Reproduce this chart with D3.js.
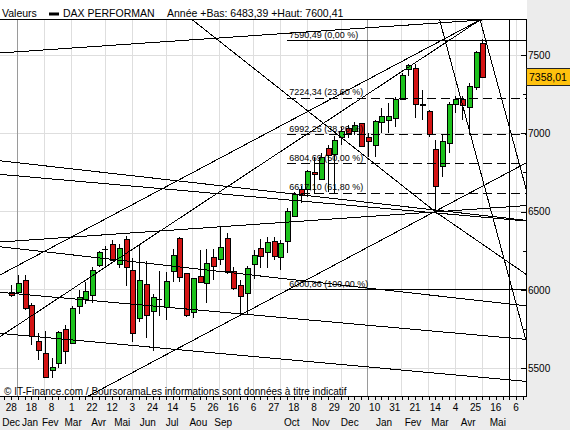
<!DOCTYPE html>
<html>
<head>
<meta charset="utf-8">
<script src="https://cdn.jsdelivr.net/npm/d3@7"></script>
<style>
  body { margin: 0; background: #fff; }
  svg { display: block; font-family: "Liberation Sans", Arial, sans-serif; }
</style>
</head>
<body>
<script>
// weekly candles, week 0 = Monday 28 Dec 2009
const startDate = new Date(Date.UTC(2009, 11, 28));
const opens  = [5984,5982,6059,5901,5674,5595,5484,5531,5748,5659,5893,5940,5965,6157,6257,6291,6165,6323,6123,5818,
                6036,5861,5942,5887,6121,6329,6106,5857,6084,6042,6208,6195,6329,6121,6027,5978,6163,6265,6238,6308,
                6208,6308,6468,6642,6642,6751,6707,6904,6868,6974,7032,7010,7064,6974,6921,7070,7085,7096,7217,7409,
                7415,7182,7138,6898,6787,6936,7181,7217,7166,7291,7575];
const highs  = [6031,6095,6095,5914,5727,5740,5563,5740,5776,5899,5999,6053,6148,6251,6280,6319,6293,6346,6202,6287,
                6187,5974,6121,6112,6259,6336,6106,6078,6255,6259,6259,6400,6361,6148,6063,6152,6255,6323,6340,6340,
                6319,6521,6627,6663,6766,6850,6872,6925,6983,7042,7053,7074,7068,7000,7085,7159,7191,7230,7383,7443,
                7442,7276,7149,6957,6990,7202,7240,7238,7319,7525,7600.41];
const lows   = [5952,5978,5872,5648,5552,5441,5441,5503,5525,5654,5844,5910,5918,6148,6148,6187,6138,6027,5665,5797,
                5691,5612,5835,5808,6053,6053,5829,5818,6046,5914,6063,6159,6105,5999,5846,5846,6067,6138,6138,6191,
                6127,6233,6463,6557,6595,6610,6702,6627,6617,6925,6968,6989,6915,6851,6851,7000,7004,7042,7217,7366,
                7096,7085,6974,6490,6723,6872,7130,7085,6989,7277,7352];
const closes = [5965,6042,5882,5706,5612,5442,5505,5729,5606,5882,5953,5989,6123,6240,6257,6191,6265,6144,5723,6059,
                5835,5953,5942,6053,6219,6078,5835,6074,6046,6170,6148,6268,6116,6010,5961,6138,6219,6216,6302,6212,
                6297,6500,6612,6606,6755,6738,6848,6857,6953,7010,7000,7047,6919,6949,7074,7110,7106,7217,7372,7430,
                7185,7178,6990,6663,6951,7185,7217,7178,7298,7517,7358.01];

const lastPrice = 7358.01;
const yearLow = 6483.39;
const yearHigh = 7600.41;

// Fibonacci retracement
const fibValues = [7590.49, 7224.34, 6992.25, 6804.69, 6617.10, 6000.86];
const fibPcts   = [0, 23.6, 38.2, 50, 61.8, 100];
const fibDashed = [false, true, true, true, true, false];
const fibStartWeek = 41;

// trend lines drawn on the chart: [week1, value1, week2, value2]
const trendLines = [
  [-1.66, 7513, 71.1, 7727],
  [26.9, 7725, 63, 6500],
  [63, 6500, 76.63, 6096],
  [-1.66, 6825, 76.63, 6444],
  [-1.66, 6738, 76.63, 6440],
  [-1.66, 6306, 76.63, 6539],
  [-1.66, 6276, 76.63, 5898],
  [-1.66, 5985, 76.63, 5684],
  [-1.66, 5723, 76.63, 5416],
  [-1.66, 6096, 69.7, 7725],
  [-1.66, 5702, 69.7, 7725],
  [11.22, 5317, 76.63, 6814],
  [63.63, 7727, 76.63, 5655],
  [69.65, 7727, 76.63, 6625]
];
const markerWeek = 74;

// month labels under the day ticks (week positions as printed)
const monthLabels = ["Dec","Jan","Fev","Mar","Avr","Mai","Jun","Jul","Aou","Sep","Oct","Nov","Dec","Jan","Fev","Mar","Avr","Mai"];
const monthWeeks  = [0, 2.8, 5.8, 9.2, 13, 16.5, 20.3, 23.9, 27.8, 31.5, 41.7, 46, 50.3, 55.4, 59.7, 63.7, 67.9, 72.3];

const width = 570, height = 430;
const plot = {left: 0, right: 527, top: 19.5, bottom: 397};

const x = d3.scaleLinear().domain([0, 75]).range([11.2, 516]);
const y = d3.scaleLinear().domain([5500, 7500]).range([368.3, 55]);
const wkMin = x.invert(plot.left), wkMax = x.invert(plot.right);

const frNum = d3.formatLocale({decimal: ",", thousands: "", grouping: [3], currency: ["", ""]}).format(".2f");
const weekDate = i => d3.utcDay.offset(startDate, 7 * i);

const svg = d3.select("body").append("svg")
    .attr("width", width)
    .attr("height", height);

svg.append("rect").attr("width", width).attr("height", height).attr("fill", "#ececec");
svg.append("rect").attr("x", 0).attr("y", 0)
    .attr("width", plot.right).attr("height", plot.bottom).attr("fill", "#fff");

svg.append("clipPath").attr("id", "clip")
  .append("rect")
    .attr("x", plot.left).attr("y", plot.top)
    .attr("width", plot.right - plot.left).attr("height", plot.bottom - plot.top);

const grid = svg.append("g").attr("shape-rendering", "crispEdges");

// horizontal grid
grid.selectAll("line.h")
  .data(d3.range(5500, 7501, 500))
  .join("line")
    .attr("x1", plot.left).attr("x2", plot.right)
    .attr("y1", d => y(d)).attr("y2", d => y(d))
    .attr("stroke", "#dedede");

// vertical grid at first monday of each month
const allWeeks = d3.range(Math.ceil(wkMin), Math.floor(wkMax) + 1);
const monthStarts = allWeeks.filter(i => weekDate(i).getUTCDate() <= 7);
grid.selectAll("line.v")
  .data(monthStarts)
  .join("line")
    .attr("x1", d => x(d)).attr("x2", d => x(d))
    .attr("y1", plot.top).attr("y2", plot.bottom)
    .attr("stroke", d => weekDate(d).getUTCMonth() === 0 ? "#9a9a9a" : "#dedede");

const chart = svg.append("g").attr("clip-path", "url(#clip)");

// candles
const candles = d3.range(closes.length);
chart.append("g").attr("shape-rendering", "crispEdges")
  .selectAll("line")
  .data(candles)
  .join("line")
    .attr("x1", i => Math.round(x(i)) + 0.5).attr("x2", i => Math.round(x(i)) + 0.5)
    .attr("y1", i => y(highs[i])).attr("y2", i => y(lows[i]))
    .attr("stroke", "#000");

const bodies = chart.append("g").attr("shape-rendering", "crispEdges");
bodies.selectAll("rect")
  .data(candles.filter(i => opens[i] !== closes[i]))
  .join("rect")
    .attr("x", i => Math.round(x(i)) - 2)
    .attr("y", i => y(Math.max(opens[i], closes[i])))
    .attr("width", 5)
    .attr("height", i => Math.max(1, Math.abs(y(opens[i]) - y(closes[i]))))
    .attr("fill", i => closes[i] > opens[i] ? "#1cc21c" : "#d41414")
    .attr("stroke", "#000");
bodies.selectAll("line")
  .data(candles.filter(i => opens[i] === closes[i]))
  .join("line")
    .attr("x1", i => Math.round(x(i)) - 3).attr("x2", i => Math.round(x(i)) + 3)
    .attr("y1", i => y(closes[i])).attr("y2", i => y(closes[i]))
    .attr("stroke", "#000");

// trend lines
chart.append("g")
    .attr("shape-rendering", "crispEdges")
  .selectAll("line")
  .data(trendLines)
  .join("line")
    .attr("x1", d => x(d[0])).attr("y1", d => y(d[1]))
    .attr("x2", d => x(d[2])).attr("y2", d => y(d[3]))
    .attr("stroke", "#000");

chart.append("line")
    .attr("shape-rendering", "crispEdges")
    .attr("x1", x(markerWeek)).attr("x2", x(markerWeek))
    .attr("y1", plot.top).attr("y2", plot.bottom)
    .attr("stroke", "#000");

// fibonacci lines and labels
const fib = chart.append("g");
fib.selectAll("line")
  .data(fibValues)
  .join("line")
    .attr("shape-rendering", "crispEdges")
    .attr("x1", x(fibStartWeek)).attr("x2", plot.right)
    .attr("y1", d => y(d)).attr("y2", d => y(d))
    .attr("stroke", "#000")
    .attr("stroke-dasharray", (d, i) => fibDashed[i] ? "9,5" : null);
fib.selectAll("text")
  .data(fibValues)
  .join("text")
    .attr("x", x(fibStartWeek) + 2)
    .attr("y", d => y(d) - 3)
    .attr("font-size", 9)
    .attr("fill", "#000")
    .text((d, i) => `${frNum(d)} (${frNum(fibPcts[i])} %)`);

// frame
const frame = svg.append("g").attr("shape-rendering", "crispEdges").attr("stroke", "#000");
frame.append("line").attr("x1", 0).attr("x2", plot.right).attr("y1", plot.top).attr("y2", plot.top);
frame.append("line").attr("x1", 0).attr("x2", plot.right).attr("y1", plot.bottom - 0.5).attr("y2", plot.bottom - 0.5);
frame.append("line").attr("x1", plot.right - 0.5).attr("x2", plot.right - 0.5).attr("y1", plot.top).attr("y2", plot.bottom);

// y axis (right)
const yAxis = svg.append("g");
yAxis.selectAll("line.major")
  .data(d3.range(5500, 7501, 500))
  .join("line")
    .attr("shape-rendering", "crispEdges")
    .attr("x1", plot.right - 6).attr("x2", plot.right - 1)
    .attr("y1", d => Math.round(y(d)) + 0.5).attr("y2", d => Math.round(y(d)) + 0.5)
    .attr("stroke", "#000");
yAxis.selectAll("line.minor")
  .data(d3.range(5750, 7500, 500))
  .join("line")
    .attr("shape-rendering", "crispEdges")
    .attr("x1", plot.right - 4).attr("x2", plot.right - 1)
    .attr("y1", d => Math.round(y(d)) + 0.5).attr("y2", d => Math.round(y(d)) + 0.5)
    .attr("stroke", "#000");
yAxis.selectAll("text")
  .data(d3.range(5500, 7501, 500))
  .join("text")
    .attr("x", plot.right + 1)
    .attr("y", d => y(d))
    .attr("dy", "0.36em")
    .attr("font-size", 10)
    .text(d => d);

// last price tag
const tag = svg.append("g");
tag.append("rect")
    .attr("shape-rendering", "crispEdges")
    .attr("x", plot.right - 0.5).attr("y", Math.round(y(lastPrice)) - 8.5)
    .attr("width", 44).attr("height", 17)
    .attr("fill", "#ffc20e").attr("stroke", "#222");
tag.append("text")
    .attr("x", plot.right + 2).attr("y", y(lastPrice))
    .attr("dy", "0.36em")
    .attr("font-size", 10.5)
    .text(frNum(lastPrice));

// x axis (weeks)
const xAxis = svg.append("g");
xAxis.selectAll("line")
  .data(allWeeks)
  .join("line")
    .attr("shape-rendering", "crispEdges")
    .attr("x1", d => Math.round(x(d)) + 0.5).attr("x2", d => Math.round(x(d)) + 0.5)
    .attr("y1", plot.bottom).attr("y2", plot.bottom + 3)
    .attr("stroke", "#000");
xAxis.selectAll("text.day")
  .data(d3.range(0, 76, 3))
  .join("text")
    .attr("x", d => x(d))
    .attr("y", 410.5)
    .attr("text-anchor", "middle")
    .attr("font-size", 10)
    .text(d => weekDate(d).getUTCDate());
xAxis.selectAll("text.month")
  .data(monthLabels)
  .join("text")
    .attr("x", (d, i) => x(monthWeeks[i]))
    .attr("y", 426)
    .attr("text-anchor", "middle")
    .attr("font-size", 10)
    .text(d => d);

// header
const head = svg.append("g").attr("font-size", 10.5);
head.append("text").attr("x", 2).attr("y", 16.5).text("Valeurs");
head.append("rect").attr("x", 49).attr("y", 12.5).attr("width", 10).attr("height", 3).attr("fill", "#000");
head.append("text").attr("x", 63).attr("y", 16.5).text("DAX PERFORMAN");
head.append("text").attr("x", 167).attr("y", 16.5)
    .text(`Année +Bas: ${frNum(yearLow)} +Haut: ${frNum(yearHigh)}`);

// source note
svg.append("text")
    .attr("x", 4).attr("y", 395)
    .attr("font-size", 10)
    .text("© IT-Finance.com / BoursoramaLes informations sont données à titre indicatif");
</script>
</body>
</html>
